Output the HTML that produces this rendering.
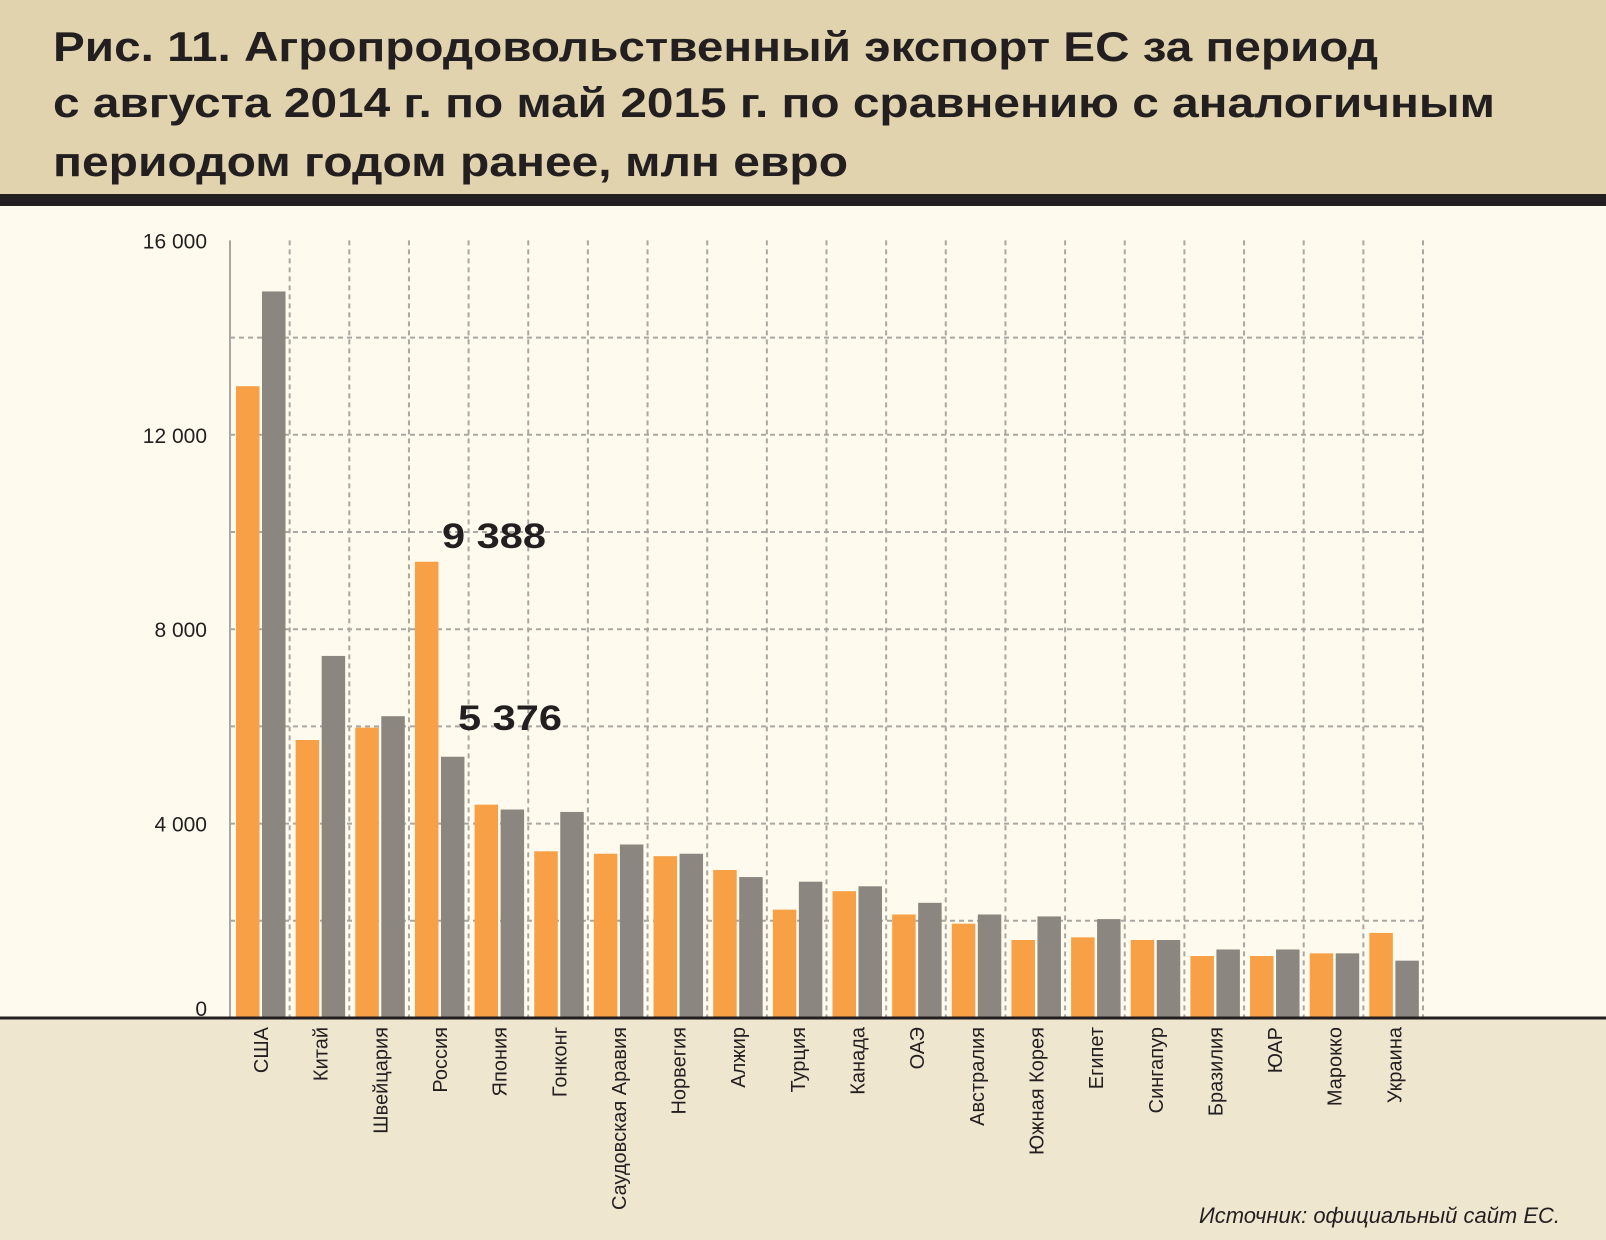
<!DOCTYPE html>
<html><head><meta charset="utf-8"><style>
body{margin:0;width:1606px;height:1240px;overflow:hidden;background:#fefbee;}
svg{display:block;font-family:"Liberation Sans",sans-serif;}
</style></head><body>
<svg id="c" width="1606" height="1240">
<rect x="0" y="0" width="1606" height="194" fill="#e0d3ad"/>
<rect x="0" y="194" width="1606" height="12" fill="#231f20"/>
<rect x="0" y="206" width="1606" height="812" fill="#fefbee"/>
<rect x="0" y="1018" width="1606" height="222" fill="#efe6cf"/>
<g font-weight="bold" font-size="42" fill="#231f20">
<text x="53" y="61" textLength="1325" lengthAdjust="spacingAndGlyphs">Рис. 11. Агропродовольственный экспорт ЕС за период</text>
<text x="53" y="117" textLength="1442" lengthAdjust="spacingAndGlyphs">с августа 2014 г. по май 2015 г. по сравнению с аналогичным</text>
<text x="53" y="176" textLength="795" lengthAdjust="spacingAndGlyphs">периодом годом ранее, млн евро</text>
</g>
<g id="grid"></g><g id="bars"></g><g id="labels"></g>
<text x="442" y="548" font-size="35" font-weight="bold" fill="#231f20" textLength="104" lengthAdjust="spacingAndGlyphs">9 388</text>
<text x="458" y="730" font-size="35" font-weight="bold" fill="#231f20" textLength="104" lengthAdjust="spacingAndGlyphs">5 376</text>
<text x="1560" y="1223" text-anchor="end" font-size="22" font-style="italic" fill="#231f20" textLength="361" lengthAdjust="spacingAndGlyphs">Источник: официальный сайт ЕС.</text>
</svg>
<script>
const categories=["США","Китай","Швейцария","Россия","Япония","Гонконг","Саудовская Аравия","Норвегия","Алжир","Турция","Канада","ОАЭ","Австралия","Южная Корея","Египет","Сингапур","Бразилия","ЮАР","Марокко","Украина"];
const current=[13000,5720,5975,9388,4390,3430,3380,3330,3045,2230,2610,2130,1940,1605,1660,1605,1275,1275,1330,1750];
const previous=[14950,7450,6210,5376,4290,4240,3570,3380,2900,2805,2710,2370,2130,2090,2035,1605,1410,1410,1330,1180];
const yTicks=[0,4000,8000,12000,16000];
const yTickLabels=["0","4 000","8 000","12 000","16 000"];
const gridStep=2000;
const NS="http://www.w3.org/2000/svg";
const x0=230,groupW=59.65,y0=1018,pxPer=97.2/2000;
const Y=v=>y0-v*pxPer;
const X=i=>x0+i*groupW;
function mk(t,a,p){const e=document.createElementNS(NS,t);for(const k in a)e.setAttribute(k,a[k]);p.appendChild(e);return e;}
const grid=document.getElementById('grid'),bars=document.getElementById('bars'),labels=document.getElementById('labels');
const xEnd=X(categories.length);
for(let v=gridStep;v<16000;v+=gridStep){
 const l=mk('line',{x1:x0,x2:xEnd,y1:Y(v),y2:Y(v),stroke:'#a9a7a2','stroke-width':2,'stroke-dasharray':'5 4'},grid);
 
 
}
for(let i=1;i<=categories.length;i++){
 const l=mk('line',{x1:X(i),x2:X(i),y1:Y(16000),y2:y0,stroke:'#a9a7a2','stroke-width':2,'stroke-dasharray':'5 4'},grid);
 
 
}
const ax=mk('line',{x1:x0,x2:x0,y1:Y(16000),y2:y0,stroke:'#a9a7a2','stroke-width':2},grid);


yTicks.forEach((v,i)=>{
 const t=mk('text',{x:207,y:(v===0?y0-2:Y(v)+8),'text-anchor':'end','font-size':21,fill:'#231f20'},labels);
 t.textContent=yTickLabels[i];
 
 
});
categories.forEach((c,i)=>{
 const gx=X(i);
 const b1=mk('rect',{x:gx+6,y:Y(current[i]),width:23.5,height:y0-Y(current[i]),fill:'#f7a046'},bars);
 
 
 const b2=mk('rect',{x:gx+32,y:Y(previous[i]),width:23.5,height:y0-Y(previous[i]),fill:'#8b8780'},bars);
 
 
 const cx=gx+31, t=mk('text',{x:0,y:0,transform:`translate(${cx+7},1027) rotate(-90)`,'text-anchor':'end','font-size':20,fill:'#231f20'},labels);
 t.textContent=c;
 
 
});
const base=mk('line',{x1:0,x2:1606,y1:y0,y2:y0,stroke:'#231f20','stroke-width':3},labels);


</script>
</body></html>
